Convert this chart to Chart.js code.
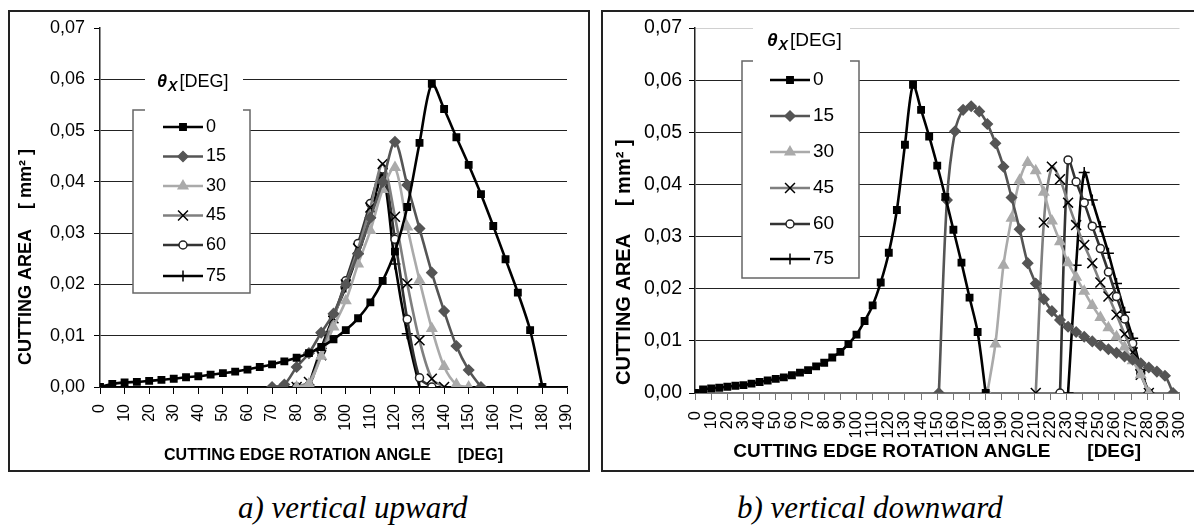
<!DOCTYPE html>
<html>
<head>
<meta charset="utf-8">
<script src="https://cdn.jsdelivr.net/npm/chart.js@4.4.1/dist/chart.umd.min.js"></script>
<style>
    body { margin: 0; background: #fff; width: 1194px; height: 526px; overflow: hidden; position: relative; font-family: "Liberation Sans", Arial, sans-serif; }
    .box { position: absolute; border: 2px solid #222; box-sizing: border-box; background: #fff; }
    #boxA { left: 8px; top: 10px; width: 582px; height: 462px; }
    #boxB { left: 601px; top: 10px; width: 600px; height: 462px; }
    canvas { position: absolute; }
    #upChart { left: 10px; top: 12px; }
    #downChart { left: 603px; top: 12px; }
    .cap { position: absolute; top: 492px; font: italic 31px "Liberation Serif", serif; line-height: 31px; white-space: nowrap; }
    #capA { left: 238px; }
    #capB { left: 737px; }
</style>
</head>
<body>
<div class="box" id="boxA"></div>
<div class="box" id="boxB"></div>
<canvas id="upChart" width="578" height="458"></canvas>
<canvas id="downChart" width="591" height="458"></canvas>
<div class="cap" id="capA">a) vertical upward</div>
<div class="cap" id="capB">b) vertical downward</div>

<script>
// series names (theta_x, deg)
const seriesNames = ["0", "15", "30", "45", "60", "75"];

// a) vertical upward - rotation angle [deg] / cutting area [mm2]
const upAngle0 = [0, 5, 10, 15, 20, 25, 30, 35, 40, 45, 50, 55, 60, 65, 70, 75, 80, 85, 90, 95, 100, 105, 110, 115, 120, 125, 130, 135, 140, 145, 150, 155, 160, 165, 170, 175, 180];
const upArea0 = [0, 0.0006, 0.0009, 0.0010, 0.0012, 0.0014, 0.0016, 0.0019, 0.0021, 0.0024, 0.0027, 0.0030, 0.0034, 0.0039, 0.0044, 0.0050, 0.0057, 0.0066, 0.0078, 0.0093, 0.0111, 0.0134, 0.0165, 0.0207, 0.0264, 0.0351, 0.0476, 0.0591, 0.0542, 0.0487, 0.0433, 0.0376, 0.0314, 0.0249, 0.0184, 0.0111, 0];
const upAngle15 = [70, 75, 80, 85, 90, 95, 100, 105, 110, 115, 120, 125, 130, 135, 140, 145, 150, 155];
const upArea15 = [0, 0.0005, 0.0039, 0.0066, 0.0106, 0.0143, 0.0200, 0.0260, 0.0330, 0.0400, 0.0478, 0.0394, 0.0309, 0.0223, 0.0148, 0.0080, 0.0033, 0];
const upAngle30 = [80, 85, 90, 95, 100, 105, 110, 115, 120, 125, 130, 135, 140, 145, 150];
const upArea30 = [0, 0.0006, 0.0060, 0.0117, 0.0168, 0.0240, 0.0305, 0.0385, 0.0428, 0.0312, 0.0208, 0.0114, 0.0040, 0.0005, 0];
const upAngle45 = [80, 85, 90, 95, 100, 105, 110, 115, 120, 125, 130, 135, 140];
const upArea45 = [0, 0.0010, 0.0062, 0.0134, 0.0200, 0.0270, 0.0350, 0.0435, 0.0332, 0.0202, 0.0091, 0.0016, 0];
const upAngle60 = [80, 85, 90, 95, 100, 105, 110, 115, 120, 125, 130, 135];
const upArea60 = [0, 0.0003, 0.0070, 0.0135, 0.0207, 0.0280, 0.0358, 0.0425, 0.0288, 0.0132, 0.0018, 0];
const upAngle75 = [85, 90, 95, 100, 105, 110, 115, 120, 125, 130];
const upArea75 = [0.0004, 0.0075, 0.0138, 0.0195, 0.0260, 0.0330, 0.0415, 0.0240, 0.0104, 0];

// b) vertical downward
const downAngle0 = [0, 5, 10, 15, 20, 25, 30, 35, 40, 45, 50, 55, 60, 65, 70, 75, 80, 85, 90, 95, 100, 105, 110, 115, 120, 125, 130, 135, 140, 145, 150, 155, 160, 165, 170, 175, 180];
const downArea0 = [0, 0.0007, 0.0009, 0.0010, 0.0012, 0.0014, 0.0015, 0.0018, 0.0021, 0.0024, 0.0027, 0.0030, 0.0034, 0.0039, 0.0044, 0.0051, 0.0058, 0.0068, 0.0079, 0.0094, 0.0112, 0.0138, 0.0168, 0.0212, 0.0269, 0.0351, 0.0476, 0.0591, 0.0543, 0.0492, 0.0436, 0.0376, 0.0313, 0.0250, 0.0183, 0.0117, 0];
const downAngle15 = [151, 156, 161, 166, 171, 176, 181, 186, 191, 196, 201, 206, 211, 216, 221, 226, 231, 236, 241, 246, 251, 256, 261, 266, 271, 276, 281, 286, 291, 296];
const downArea15 = [0, 0.0370, 0.0502, 0.0543, 0.0550, 0.0540, 0.0516, 0.0479, 0.0434, 0.0375, 0.0314, 0.0249, 0.0210, 0.0180, 0.0157, 0.0140, 0.0127, 0.0117, 0.0108, 0.0099, 0.0091, 0.0084, 0.0077, 0.0070, 0.0064, 0.0057, 0.0049, 0.0041, 0.0033, 0];
const downAngle30 = [181, 186, 191, 196, 201, 206, 211, 216, 221, 226, 231, 236, 241, 246, 251, 256, 261, 266, 271, 276, 281];
const downArea30 = [0, 0.0094, 0.0245, 0.0335, 0.0408, 0.0442, 0.0426, 0.0385, 0.0330, 0.0290, 0.0250, 0.0222, 0.0195, 0.0168, 0.0145, 0.0125, 0.0108, 0.0088, 0.0062, 0.0035, 0];
const downAngle45 = [211, 216, 221, 226, 231, 236, 241, 246, 251, 256, 261, 266, 271, 276, 281];
const downArea45 = [0, 0.0327, 0.0434, 0.0410, 0.0365, 0.0322, 0.0284, 0.0249, 0.0212, 0.0185, 0.0150, 0.0113, 0.0078, 0.0035, 0];
const downAngle60 = [226, 231, 236, 241, 246, 251, 256, 261, 266, 271, 276, 281];
const downArea60 = [0, 0.0447, 0.0405, 0.0365, 0.0320, 0.0277, 0.0232, 0.0185, 0.0142, 0.0095, 0.0038, 0];
const downAngle75 = [231, 236, 241, 246, 251, 256, 261, 266, 271, 276, 281];
const downArea75 = [0, 0.0245, 0.0423, 0.0370, 0.0319, 0.0268, 0.0210, 0.0155, 0.0105, 0.0045, 0];

// axis ranges / ticks
const areaTicks = [0, 0.01, 0.02, 0.03, 0.04, 0.05, 0.06, 0.07];
const upAngleMax = 190;
const downAngleMax = 300;

// look of each theta series
const seriesStyle = [
    { color: "#000", point: "rect", r: 4.5, fill: "#000", edge: "#000" },
    { color: "#555", point: "rectRot", r: 5, fill: "#555", edge: "#555" },
    { color: "#aaa", point: "triangle", r: 5.5, fill: "#aaa", edge: "#aaa" },
    { color: "#7f7f7f", point: "crossRot", r: 7, fill: "#000", edge: "#000" },
    { color: "#333", point: "circle", r: 4, fill: "#fff", edge: "#222" },
    { color: "#000", point: "cross", r: 5.5, fill: "#000", edge: "#000" }
];

function toPoints(angles, areas) {
    return angles.map((a, i) => ({ x: a, y: areas[i] }));
}

function buildSets(pairs) {
    return pairs.map((p, i) => {
        const s = seriesStyle[i];
        return {
            label: seriesNames[i],
            data: toPoints(p[0], p[1]),
            borderColor: s.color,
            borderWidth: 2.6,
            pointStyle: s.point,
            pointRadius: s.r,
            pointBackgroundColor: s.fill,
            pointBorderColor: s.edge,
            pointBorderWidth: 1.5,
            tension: 0.3
        };
    });
}

// legend box drawn inside the plot, like the original
const boxLegend = {
    id: "boxLegend",
    afterDraw(chart, args, o) {
        const ctx = chart.ctx;
        ctx.save();
        const b = o.box, t = o.titleBg;
        ctx.fillStyle = "#fff";
        ctx.fillRect(b[0], b[1], b[2] - b[0], b[3] - b[1]);
        ctx.strokeStyle = "#666";
        ctx.lineWidth = 1.5;
        ctx.strokeRect(b[0], b[1], b[2] - b[0], b[3] - b[1]);
        ctx.fillRect(t[0], t[1], t[2] - t[0], t[3] - t[1]);

        let x = o.title[0];
        const y = o.title[1];
        ctx.fillStyle = "#000";
        ctx.textAlign = "left";
        ctx.textBaseline = "middle";
        ctx.font = "italic bold " + o.font + "px 'Liberation Sans'";
        ctx.fillText("θ", x, y);
        x += ctx.measureText("θ").width + 1;
        ctx.font = "italic bold " + Math.round(o.font * 0.75) + "px 'Liberation Sans'";
        ctx.fillText("X", x, y + 5);
        x += ctx.measureText("X").width + 2;
        ctx.font = o.font + "px 'Liberation Sans'";
        ctx.fillText("[DEG]", x, y);

        chart.data.datasets.forEach((ds, i) => {
            const yy = o.rowY[i];
            ctx.strokeStyle = ds.borderColor;
            ctx.lineWidth = ds.borderWidth;
            ctx.beginPath();
            ctx.moveTo(o.lineX[0], yy);
            ctx.lineTo(o.lineX[1], yy);
            ctx.stroke();
            ctx.fillStyle = ds.pointBackgroundColor;
            ctx.strokeStyle = ds.pointBorderColor;
            ctx.lineWidth = ds.pointBorderWidth;
            Chart.helpers.drawPoint(ctx, { pointStyle: ds.pointStyle, radius: ds.pointRadius, rotation: 0, borderWidth: ds.pointBorderWidth }, (o.lineX[0] + o.lineX[1]) / 2, yy);
            ctx.fillStyle = "#000";
            ctx.font = o.font + "px 'Liberation Sans'";
            ctx.fillText(ds.label, o.textX, yy);
        });
        ctx.restore();
    }
};

// y axis title, placed by hand (it is not centred on the plot in the original)
const sideTitle = {
    id: "sideTitle",
    afterDraw(chart, args, o) {
        const ctx = chart.ctx;
        ctx.save();
        ctx.translate(o.x, o.y);
        ctx.rotate(-Math.PI / 2);
        ctx.font = "bold " + o.font + "px 'Liberation Sans'";
        ctx.fillStyle = "#000";
        ctx.textAlign = "left";
        ctx.textBaseline = "middle";
        ctx.fillText(o.text, 0, 0);
        ctx.restore();
    }
};

function makeChart(id, sets, cfg) {
    return new Chart(document.getElementById(id), {
        type: "line",
        data: { datasets: sets },
        plugins: [boxLegend, sideTitle],
        options: {
            responsive: false,
            animation: false,
            events: [],
            layout: { padding: { top: 16, right: cfg.padRight, left: 0, bottom: 0 } },
            plugins: {
                legend: { display: false },
                tooltip: { enabled: false },
                boxLegend: cfg.legend,
                sideTitle: cfg.yTitle
            },
            scales: {
                x: {
                    type: "linear",
                    min: 0,
                    max: cfg.xMax,
                    afterFit: s => { s.height = cfg.xHeight; s.paddingLeft = 0; s.paddingRight = 0; },
                    ticks: {
                        stepSize: 10,
                        autoSkip: false,
                        minRotation: 90,
                        maxRotation: 90,
                        padding: cfg.xTickPad,
                        color: "#000",
                        font: { family: "'Liberation Sans'", size: cfg.xTickSize }
                    },
                    grid: { drawOnChartArea: false, drawTicks: true, tickLength: 7, color: cfg.xAxisColor, tickColor: cfg.xAxisColor },
                    border: { color: cfg.xAxisColor, width: 1.5 },
                    title: {
                        display: true,
                        text: cfg.xTitle,
                        color: "#000",
                        font: { family: "'Liberation Sans'", size: cfg.xTitleSize, weight: "bold" },
                        padding: { top: 0, bottom: cfg.xTitlePad }
                    }
                },
                y: {
                    min: 0,
                    max: 0.07,
                    afterFit: s => { s.width = cfg.yWidth; s.paddingTop = 0; s.paddingBottom = 0; },
                    afterBuildTicks: s => { s.ticks = areaTicks.map(v => ({ value: v })); },
                    ticks: {
                        padding: cfg.yTickPad,
                        color: "#000",
                        font: { family: "'Liberation Sans'", size: cfg.yTickSize },
                        callback: v => v.toFixed(2).replace(".", ",")
                    },
                    grid: {
                        drawTicks: true,
                        tickLength: 6,
                        lineWidth: 1,
                        color: c => cfg.gridColor(c.tick.value),
                        tickColor: "#000"
                    },
                    border: { color: "#222", width: 1.5 }
                }
            }
        }
    });
}

makeChart("upChart", buildSets([
    [upAngle0, upArea0], [upAngle15, upArea15], [upAngle30, upArea30],
    [upAngle45, upArea45], [upAngle60, upArea60], [upAngle75, upArea75]
]), {
    xMax: upAngleMax,
    padRight: 21,
    xHeight: 83,
    yWidth: 90,
    xTickPad: 10,
    xTickSize: 16,
    yTickPad: 9,
    yTickSize: 18,
    xAxisColor: "#000",
    xTitle: "CUTTING EDGE ROTATION ANGLE      [DEG]",
    xTitleSize: 16,
    xTitlePad: 5,
    gridColor: v => (v >= 0.069 ? "rgba(0,0,0,0)" : "#222"),
    yTitle: { text: "CUTTING AREA    [ mm² ]", x: 16, y: 353, font: 18 },
    legend: {
        box: [123, 98, 240, 281],
        titleBg: [135, 50, 233, 101],
        title: [147, 70.5],
        rowY: [115, 144.5, 174, 203.5, 233, 264],
        lineX: [153, 193],
        textX: 196,
        font: 18
    }
});

makeChart("downChart", buildSets([
    [downAngle0, downArea0], [downAngle15, downArea15], [downAngle30, downArea30],
    [downAngle45, downArea45], [downAngle60, downArea60], [downAngle75, downArea75]
]), {
    xMax: downAngleMax,
    padRight: 14.5,
    xHeight: 77,
    yWidth: 92,
    xTickPad: 11,
    xTickSize: 16.5,
    yTickPad: 7,
    yTickSize: 19.5,
    xAxisColor: "#777",
    xTitle: "CUTTING EDGE ROTATION ANGLE       [DEG]",
    xTitleSize: 19,
    xTitlePad: 6.5,
    gridColor: v => (v >= 0.069 ? "#d0d0d0" : (v <= 0.001 ? "#777" : "#222")),
    yTitle: { text: "CUTTING AREA     [ mm² ]", x: 21, y: 373, font: 20 },
    legend: {
        box: [139, 49, 256, 266],
        titleBg: [150, 8, 247, 51],
        title: [164, 29],
        rowY: [68, 104, 140, 176, 212, 247],
        lineX: [167, 207],
        textX: 210,
        font: 19
    }
});
</script>
</body>
</html>
